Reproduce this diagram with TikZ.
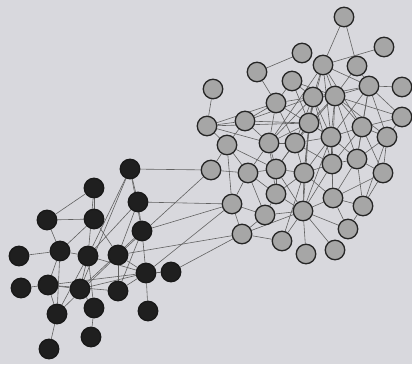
\documentclass[tikz,border=0pt]{standalone}
\usetikzlibrary{backgrounds}
\definecolor{bgc}{RGB}{216,216,221}
\begin{document}
\begin{tikzpicture}[x=1pt,y=-1pt,
  gnode/.style={circle,draw=black!85,line width=1.3pt,fill=black!35,minimum size=19.5pt,inner sep=0pt},
  bnode/.style={circle,draw=black!90,line width=1.3pt,fill=black!88,minimum size=19.5pt,inner sep=0pt},
  edge/.style={draw=black!62,line width=0.6pt}]
\useasboundingbox (0,0) rectangle (412,364);
\foreach \n/\x/\y in {1/344/17,2/384/47,3/302/53,4/323/65,5/357/66,6/257/72,7/292/81,8/369/86,9/402/87,10/213/89,
 11/276/103,12/313/97,13/335/96,14/402/117,15/207/126,16/245/121,17/309/123,18/362/127,19/331/137,20/387/137,
 21/227/145,22/269/143,23/295/143,24/357/159,25/211/170,26/248/173,27/276/169,28/304/173,29/332/164,30/383/173,
 31/276/194,32/232/204,33/265/215,34/303/211,35/333/198,36/363/206,37/242/234,38/282/241,39/348/229,40/306/254,41/335/250}
  \node[gnode] (g\n) at (\x,\y) {};
\foreach \n/\x/\y in {1/130/169,2/94/188,3/138/202,4/47/220,5/94/219,6/142/231,7/19/256,8/60/251,9/88/256,10/118/255,
 11/146/273,12/171/272,13/21/288,14/48/285,15/80/289,16/118/291,17/57/314,18/94/308,19/148/311,20/91/337,21/49/349}
  \node[bnode] (b\n) at (\x,\y) {};
\begin{pgfonlayer}{background}
\fill[bgc] (0,0) rectangle (412,364);
\foreach \a/\b in {1/4,1/5,2/4,3/6,4/12,4/13,4/17,4/19,4/8,4/18,4/22,5/8,5/13,6/11,7/11,7/12,7/17,7/13,
 8/9,8/12,8/13,8/18,8/20,8/24,8/14,8/19,10/15,15/16,15/11,15/21,15/22,15/17,16/21,16/12,16/17,16/22,16/11,
 11/22,11/12,11/19,11/23,12/13,12/17,12/19,12/23,12/22,12/28,12/29,13/17,13/19,13/18,13/20,13/24,13/29,13/23,
 14/18,14/20,14/13,17/19,17/23,17/22,17/28,17/27,17/34,18/19,18/20,18/24,18/30,18/29,19/23,19/28,19/29,19/24,
 19/35,19/34,20/24,20/30,20/36,21/26,21/32,21/27,22/23,22/27,22/26,22/31,23/28,23/27,23/29,24/29,24/30,24/35,
 24/36,25/26,25/21,26/27,26/31,26/33,27/28,27/31,27/34,28/29,28/34,28/35,28/31,28/38,29/35,29/34,30/36,30/35,
 31/33,31/34,32/33,32/37,32/26,33/34,33/37,34/35,34/38,34/39,34/40,34/41,34/37,35/36,35/39,36/39,37/38}
  \draw[edge] (g\a) -- (g\b);
\foreach \a/\b in {2/4,4/5,2/5,4/8,5/8,7/8,8/9,1/3,1/6,3/6,6/11,11/12,11/19,2/9,5/10,8/14,8/17,14/17,13/14,
 9/15,9/17,10/11,10/16,9/11,14/11,15/11,14/15,15/18,17/21,18/20,9/3,9/1,15/1,16/11,16/6,10/3,15/6,17/10,14/16,9/18}
  \draw[edge] (b\a) -- (b\b);
\foreach \a/\b in {1/25,10/25,6/32,3/32,11/32,10/37,12/37}
  \draw[edge] (b\a) -- (g\b);
\end{pgfonlayer}
\end{tikzpicture}
\end{document}
